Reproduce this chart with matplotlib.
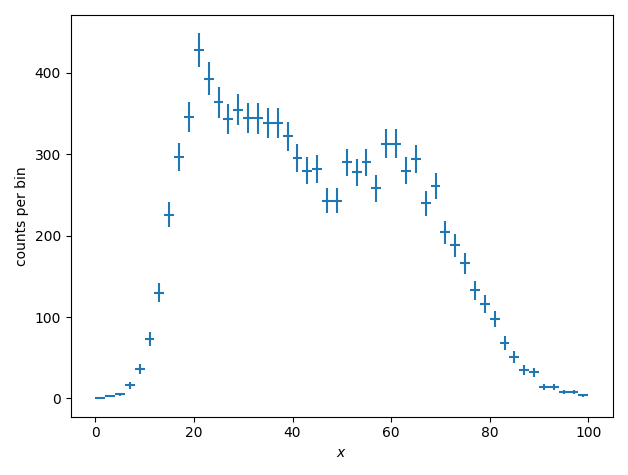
import numpy as np
import matplotlib
matplotlib.use("Agg")
import matplotlib.pyplot as plt

centers = list(range(1, 100, 2))
counts = [1, 3, 5, 16, 36, 73, 130, 226, 297, 346,
          428, 393, 364, 343, 355, 345, 344, 339, 339, 322,
          295, 280, 282, 243, 243, 290, 278, 290, 258, 313,
          313, 280, 294, 240, 261, 204, 188, 166, 133, 116,
          98, 68, 51, 35, 32, 14, 14, 8, 8, 4]

fig, ax = plt.subplots(figsize=(6.28, 4.75), dpi=100)
c = np.array(counts, dtype=float)
ax.errorbar(centers, c, xerr=1, yerr=np.sqrt(c), fmt='none', ecolor='#1f77b4', elinewidth=1.5)
ax.set_xlabel('$x$')
ax.set_ylabel('counts per bin')
fig.tight_layout()
fig.savefig('out.png')
